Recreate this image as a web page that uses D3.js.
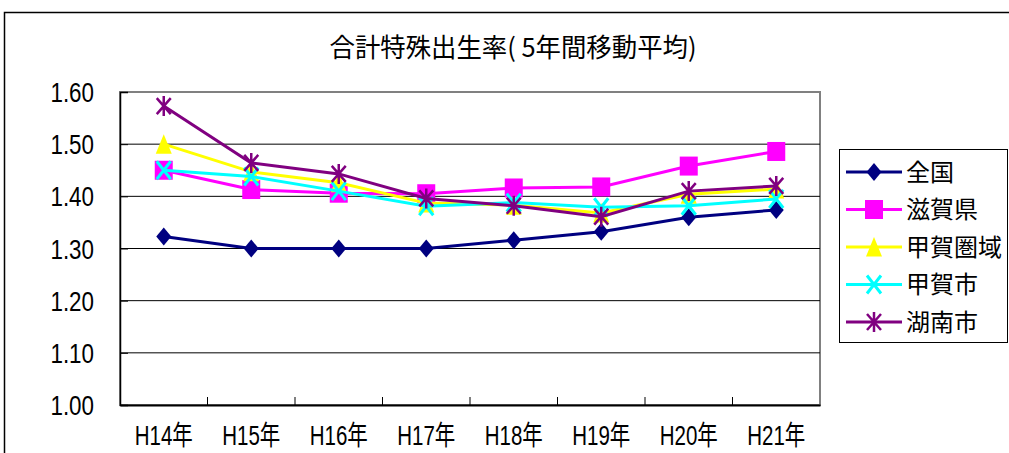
<!DOCTYPE html>
<html lang="ja">
<head>
<meta charset="utf-8">
<title>合計特殊出生率</title>
<script src="https://cdn.jsdelivr.net/npm/d3@7/dist/d3.min.js"></script>
<style>
  body { margin: 0; background: #fff; }
  text { fill: #000; }
</style>
</head>
<body>
<script>
// data
var categories = ["H14年", "H15年", "H16年", "H17年", "H18年", "H19年", "H20年", "H21年"];
var zenkoku  = [1.323, 1.30, 1.30, 1.30, 1.316, 1.332, 1.36, 1.374];
var shiga    = [1.45, 1.413, 1.406, 1.405, 1.416, 1.418, 1.458, 1.486];
var kokaKen  = [1.50, 1.447, 1.426, 1.387, 1.383, 1.368, 1.404, 1.414];
var kokaShi  = [1.45, 1.438, 1.41, 1.381, 1.388, 1.379, 1.382, 1.395];
var konan    = [1.573, 1.464, 1.443, 1.396, 1.382, 1.361, 1.41, 1.42];
var seriesNames = ["全国", "滋賀県", "甲賀圏域", "甲賀市", "湖南市"];
var yTicks = [1.0, 1.1, 1.2, 1.3, 1.4, 1.5, 1.6];

var w = 1009, h = 453;
var plotLeft = 120, plotRight = 820, plotTop = 92, plotBottom = 405;

var series = [
  { name: seriesNames[0], values: zenkoku, color: "#000080", marker: "diamond" },
  { name: seriesNames[1], values: shiga,   color: "#ff00ff", marker: "square" },
  { name: seriesNames[2], values: kokaKen, color: "#ffff00", marker: "triangle" },
  { name: seriesNames[3], values: kokaShi, color: "#00ffff", marker: "cross" },
  { name: seriesNames[4], values: konan,   color: "#800080", marker: "star" }
];

var svg = d3.select("body").append("svg")
  .attr("width", w).attr("height", h);

// outer chart frame
svg.append("rect")
  .attr("x", 4.5).attr("y", 12.5)
  .attr("width", 1100).attr("height", 500)
  .attr("fill", "none").attr("stroke", "#000").attr("stroke-width", 1.5);

var x = d3.scaleBand().domain(categories).range([plotLeft, plotRight]);
var y = d3.scaleLinear().domain([1.0, 1.6]).range([plotBottom, plotTop]);

// title
svg.append("text")
  .attr("x", 513).attr("y", 57)
  .attr("text-anchor", "middle")
  .attr("font-family", "Noto Sans CJK JP")
  .attr("font-size", 26)
  .attr("textLength", 367)
  .attr("lengthAdjust", "spacingAndGlyphs")
  .text("合計特殊出生率( 5年間移動平均)");

// plot border (gray top/right)
svg.append("rect")
  .attr("x", plotLeft).attr("y", plotTop)
  .attr("width", plotRight - plotLeft).attr("height", plotBottom - plotTop)
  .attr("fill", "none").attr("stroke", "#808080").attr("stroke-width", 2);

// gridlines
svg.append("g").selectAll("line")
  .data(yTicks.filter(function(d) { return d > 1.0 && d < 1.6; }))
  .enter().append("line")
  .attr("x1", plotLeft).attr("x2", plotRight)
  .attr("y1", function(d) { return y(d); })
  .attr("y2", function(d) { return y(d); })
  .attr("stroke", "#000").attr("stroke-width", 1);

// y axis
var yAxis = svg.append("g")
  .attr("transform", "translate(" + plotLeft + ",0)")
  .call(d3.axisLeft(y).tickValues(yTicks).tickFormat(d3.format(".2f"))
    .tickSize(-8).tickPadding(26));
yAxis.select(".domain").attr("stroke", "#000").attr("stroke-width", 1.5);
yAxis.selectAll(".tick line").attr("stroke", "#000");
yAxis.selectAll(".tick text")
  .attr("font-family", "Liberation Sans")
  .attr("font-size", 28)
  .attr("dy", "0.34em")
  .attr("x", -26 / 0.8)
  .attr("transform", "scale(0.8,1)");

// x axis
var xAxis = svg.append("g")
  .attr("transform", "translate(0," + plotBottom + ")")
  .call(d3.axisBottom(x).tickSize(0).tickPadding(21));
xAxis.select(".domain").attr("stroke", "#000").attr("stroke-width", 2);
xAxis.selectAll(".tick text")
  .attr("font-family", "Liberation Sans, Noto Sans CJK JP")
  .attr("font-size", 27)
  .attr("transform", "scale(0.76,1)");

// inward tick marks between categories
svg.append("g").selectAll("line")
  .data(categories.slice(1))
  .enter().append("line")
  .attr("x1", function(d) { return x(d); })
  .attr("x2", function(d) { return x(d); })
  .attr("y1", plotBottom).attr("y2", plotBottom - 8)
  .attr("stroke", "#000").attr("stroke-width", 1);

// markers
function drawMarker(g, type, color) {
  if (type === "diamond") {
    g.append("path").attr("d", "M0,-9L7.5,0L0,9L-7.5,0Z").attr("fill", color);
  } else if (type === "square") {
    g.append("rect").attr("x", -9).attr("y", -9.5).attr("width", 18).attr("height", 19).attr("fill", color);
  } else if (type === "triangle") {
    g.append("path").attr("d", "M0,-10L8,9.5L-8,9.5Z").attr("fill", color);
  } else if (type === "cross") {
    g.append("path").attr("d", "M-7,-9L7,9M7,-9L-7,9")
      .attr("stroke", color).attr("stroke-width", 3).attr("fill", "none");
  } else if (type === "star") {
    g.append("path").attr("d", "M-7,-8L7,8M7,-8L-7,8M0,-10L0,10")
      .attr("stroke", color).attr("stroke-width", 2.5).attr("fill", "none");
  }
}

var line = d3.line()
  .x(function(d, i) { return x(categories[i]) + x.bandwidth() / 2; })
  .y(function(d) { return y(d); });

series.forEach(function(s) {
  var g = svg.append("g");
  g.append("path")
    .attr("d", line(s.values))
    .attr("fill", "none")
    .attr("stroke", s.color)
    .attr("stroke-width", 3);
  s.values.forEach(function(v, i) {
    var m = g.append("g")
      .attr("transform", "translate(" + (x(categories[i]) + x.bandwidth() / 2) + "," + y(v) + ")");
    drawMarker(m, s.marker, s.color);
  });
});

// legend
var legend = svg.append("g");
legend.append("rect")
  .attr("x", 839.5).attr("y", 149.5)
  .attr("width", 168).attr("height", 193)
  .attr("fill", "#fff").attr("stroke", "#000").attr("stroke-width", 1);

series.forEach(function(s, i) {
  var ly = 172 + i * 37.5;
  var item = legend.append("g");
  item.append("line")
    .attr("x1", 846).attr("x2", 902)
    .attr("y1", ly).attr("y2", ly)
    .attr("stroke", s.color).attr("stroke-width", 3);
  var m = item.append("g").attr("transform", "translate(874," + ly + ")");
  drawMarker(m, s.marker, s.color);
  item.append("text")
    .attr("x", 906).attr("y", ly)
    .attr("dy", "0.36em")
    .attr("font-family", "Noto Sans CJK JP")
    .attr("font-size", 24)
    .text(s.name);
});
</script>
</body>
</html>
